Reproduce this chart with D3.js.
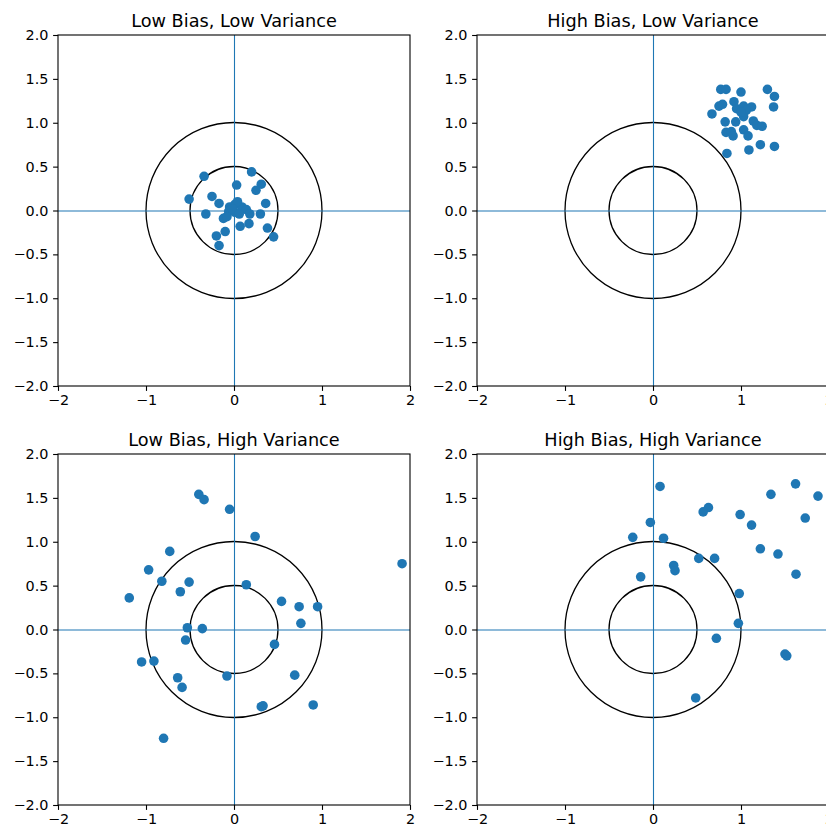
<!DOCTYPE html>
<html>
<head>
<meta charset="utf-8">
<script src="https://cdn.jsdelivr.net/npm/d3@7"></script>
<style>
  html, body { margin: 0; padding: 0; background: #fff; }
  svg { display: block; font-family: "DejaVu Sans", sans-serif; }
</style>
</head>
<body>
<svg id="chart" width="826" height="830"></svg>
<script>
// Panel titles, in reading order
const titles = [
  "Low Bias, Low Variance",
  "High Bias, Low Variance",
  "Low Bias, High Variance",
  "High Bias, High Variance"
];

// Tick values shared by all four panels
const xTicks = [-2, -1, 0, 1, 2];
const yTicks = [-2.0, -1.5, -1.0, -0.5, 0.0, 0.5, 1.0, 1.5, 2.0];

// Target ring radii
const ringRadii = [0.5, 1.0];

// Shot positions per panel: [x, y]
const lowBiasLowVar = [
  [-0.34, 0.39], [0.20, 0.44], [0.03, 0.29], [0.31, 0.30], [0.25, 0.23],
  [-0.51, 0.13], [-0.25, 0.16], [-0.17, 0.08], [0.36, 0.08], [-0.32, -0.04],
  [0.30, -0.04], [-0.05, 0.04], [0.01, 0.07], [0.09, 0.04], [0.14, 0.01],
  [0.18, -0.04], [-0.06, -0.01], [0.01, -0.02], [-0.12, -0.09], [-0.08, -0.07],
  [0.07, -0.18], [0.17, -0.15], [-0.10, -0.24], [-0.20, -0.29], [0.38, -0.20],
  [0.45, -0.30], [-0.17, -0.40], [0.04, 0.10], [-0.02, 0.02], [0.06, -0.04]
];

const highBiasLowVar = [
  [0.77, 1.38], [0.83, 1.38], [1.00, 1.35], [1.30, 1.38], [1.38, 1.30],
  [1.37, 1.18], [0.75, 1.19], [0.79, 1.21], [0.92, 1.24], [0.67, 1.10],
  [0.95, 1.16], [1.03, 1.19], [1.12, 1.18], [1.06, 1.14], [1.03, 1.07],
  [0.82, 1.01], [0.94, 1.01], [1.14, 1.02], [1.18, 0.97], [1.24, 0.96],
  [0.83, 0.89], [0.89, 0.90], [0.91, 0.85], [1.03, 0.92], [1.08, 0.85],
  [1.22, 0.75], [1.38, 0.73], [1.09, 0.69], [0.84, 0.65], [1.00, 1.12]
];

const lowBiasHighVar = [
  [-0.40, 1.54], [-0.34, 1.48], [-0.05, 1.37], [0.24, 1.06], [-0.73, 0.89],
  [-0.97, 0.68], [-0.82, 0.55], [-0.51, 0.54], [-0.61, 0.43], [-1.19, 0.36],
  [0.14, 0.51], [1.91, 0.75], [0.54, 0.32], [0.74, 0.26], [0.95, 0.26],
  [0.76, 0.07], [-0.53, 0.02], [-0.36, 0.01], [-0.55, -0.12], [0.46, -0.17],
  [-1.05, -0.37], [-0.91, -0.36], [-0.64, -0.55], [-0.59, -0.66], [-0.08, -0.53],
  [0.69, -0.52], [0.31, -0.88], [0.33, -0.87], [0.90, -0.86], [-0.80, -1.24]
];

const highBiasHighVar = [
  [0.08, 1.63], [1.62, 1.66], [1.34, 1.54], [1.875, 1.52], [0.63, 1.39],
  [0.57, 1.34], [0.99, 1.31], [1.12, 1.19], [1.73, 1.27], [-0.03, 1.22],
  [-0.23, 1.05], [0.12, 1.04], [1.22, 0.92], [1.42, 0.86], [0.52, 0.81],
  [0.70, 0.81], [0.235, 0.73], [0.25, 0.67], [1.625, 0.63], [-0.14, 0.60],
  [0.98, 0.41], [0.97, 0.07], [0.72, -0.10], [1.50, -0.28], [1.52, -0.30],
  [0.485, -0.78]
];

const panelData = [lowBiasLowVar, highBiasLowVar, lowBiasHighVar, highBiasHighVar];

const svg = d3.select("#chart");
const blue = "#1f77b4";

// Axes boxes: left edges per column, top edges per row
const colLeft = [58, 477];
const rowTop = [35, 454];
const axW = 352, axH = 351;

panelData.forEach((pts, i) => {
  const left = colLeft[i % 2];
  const top = rowTop[Math.floor(i / 2)];

  const x = d3.scaleLinear().domain([-2, 2]).range([0, axW]);
  const y = d3.scaleLinear().domain([-2, 2]).range([axH, 0]);

  const g = svg.append("g").attr("transform", `translate(${left},${top})`);

  const clipId = `clip${i}`;
  g.append("clipPath").attr("id", clipId)
    .append("rect").attr("width", axW).attr("height", axH);

  const plot = g.append("g").attr("clip-path", `url(#${clipId})`);

  // Concentric target rings
  plot.selectAll("circle.ring").data(ringRadii).join("circle")
    .attr("class", "ring")
    .attr("cx", x(0)).attr("cy", y(0))
    .attr("r", d => x(d) - x(0))
    .attr("fill", "none")
    .attr("stroke", "#000")
    .attr("stroke-width", 1.3);

  // Crosshair through the bullseye (snapped to the pixel grid)
  plot.append("line")
    .attr("x1", 0).attr("x2", axW)
    .attr("y1", y(0) + 0.5).attr("y2", y(0) + 0.5)
    .attr("stroke", blue).attr("stroke-width", 1.1);
  plot.append("line")
    .attr("x1", x(0) + 0.5).attr("x2", x(0) + 0.5)
    .attr("y1", 0).attr("y2", axH)
    .attr("stroke", blue).attr("stroke-width", 1.1);

  // Shots
  plot.selectAll("circle.pt").data(pts).join("circle")
    .attr("class", "pt")
    .attr("cx", d => x(d[0]))
    .attr("cy", d => y(d[1]))
    .attr("r", 4.8)
    .attr("fill", blue);

  // Axes
  const fmtX = d => d3.format("d")(d).replace("-", "\u2212");
  const fmtY = d => d3.format(".1f")(d).replace("-", "\u2212");

  const xAxis = g.append("g")
    .attr("transform", `translate(0,${axH})`)
    .call(d3.axisBottom(x).tickValues(xTicks).tickFormat(fmtX).tickSize(4.9).tickPadding(4.3));
  const yAxis = g.append("g")
    .call(d3.axisLeft(y).tickValues(yTicks).tickFormat(fmtY).tickSize(4.9).tickPadding(4.6));

  [xAxis, yAxis].forEach(a => {
    a.select(".domain").remove();
    a.selectAll(".tick line").attr("stroke", "#000").attr("stroke-width", 1.1);
    a.selectAll(".tick text").attr("fill", "#000")
      .style("font-family", "'DejaVu Sans', sans-serif")
      .style("font-size", "14.4px");
  });

  // Frame
  g.append("rect")
    .attr("width", axW).attr("height", axH)
    .attr("fill", "none")
    .attr("stroke", "#000")
    .attr("stroke-width", 1.1);

  // Title
  g.append("text")
    .attr("x", axW / 2).attr("y", -8.5)
    .attr("text-anchor", "middle")
    .style("font-family", "'DejaVu Sans', sans-serif")
    .style("font-size", "17.7px")
    .attr("fill", "#000")
    .text(titles[i]);
});
</script>
</body>
</html>
